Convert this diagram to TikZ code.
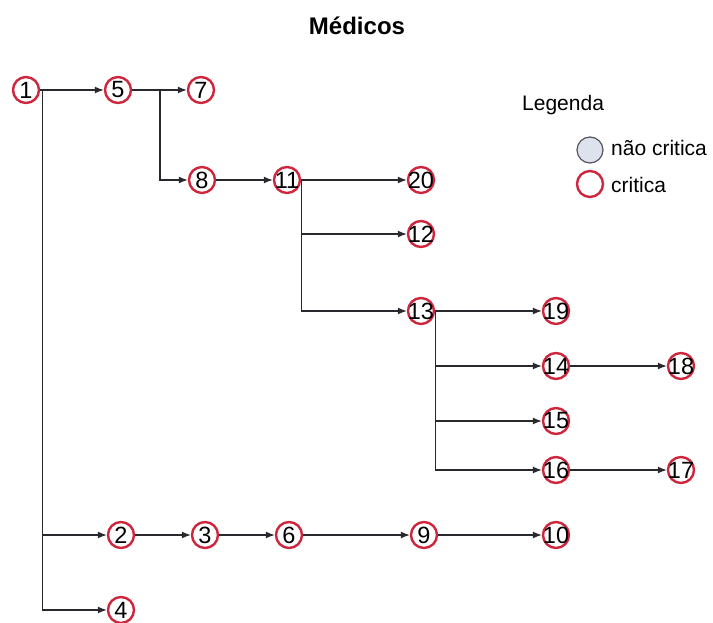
\documentclass[tikz,border=0pt]{standalone}
\usepackage{fontspec}
\setmainfont{Liberation Sans}
\usetikzlibrary{arrows.meta}
\definecolor{critred}{RGB}{206,38,60}
\definecolor{linegray}{RGB}{40,40,45}
\definecolor{softfill}{RGB}{222,226,236}
\definecolor{softedge}{RGB}{85,85,95}
\begin{document}
\begin{tikzpicture}[x=1pt,y=-1pt,
  crit/.style={circle, draw=critred, line width=2.4pt, minimum size=26pt, inner sep=0pt,
    label={[font=\fontsize{23.5}{23.5}\selectfont, inner sep=0pt]center:#1}},
  link/.style={draw=linegray, line width=1.3pt, -{Latex[length=9pt,width=7pt]}},
  trunk/.style={draw=linegray, line width=1.3pt},
  lbl/.style={font=\fontsize{21}{21}\selectfont, inner sep=0pt}]
\useasboundingbox (0,0) rectangle (713,623);

% title
\node[font=\fontsize{24}{24}\selectfont\bfseries] (title) at (357,26) {Médicos};

% legend
\node[lbl, anchor=west] (legtitle) at (522,105) {Legenda};
\node[circle, fill=softfill, draw=softedge, line width=1.2pt, minimum size=26pt, inner sep=0pt] (legsoft) at (590,150) {};
\node[circle, draw=critred, line width=2.4pt, minimum size=26pt, inner sep=0pt] (legcrit) at (590,184) {};
\node[lbl, anchor=west] (legsofttxt) at (611,148) {não critica};
\node[lbl, anchor=west] (legcrittxt) at (611,185) {critica};

% activity nodes
\node[crit=1] (n1) at (26,90) {};
\node[crit=5] (n5) at (118,90) {};
\node[crit=7] (n7) at (201,90) {};
\node[crit=8] (n8) at (202,180) {};
\node[crit=11] (n11) at (287,180) {};
\node[crit=20] (n20) at (421,180) {};
\node[crit=12] (n12) at (421,234) {};
\node[crit=13] (n13) at (421,311) {};
\node[crit=19] (n19) at (556,311) {};
\node[crit=14] (n14) at (556,366) {};
\node[crit=15] (n15) at (556,421) {};
\node[crit=16] (n16) at (556,470) {};
\node[crit=18] (n18) at (681,366) {};
\node[crit=17] (n17) at (681,470) {};
\node[crit=2] (n2) at (121,535) {};
\node[crit=3] (n3) at (205,535) {};
\node[crit=6] (n6) at (289,535) {};
\node[crit=9] (n9) at (424,535) {};
\node[crit=10] (n10) at (556,535) {};
\node[crit=4] (n4) at (121,610) {};

% branch points
\coordinate (b1) at ([xshift=2pt]n1.east);
\coordinate (b5) at (160,90);

% connectors from 1
\draw[link] (n1.east) -- (n5.west);
\draw[trunk] (b1) -- (b1 |- n4);
\draw[link] (b1 |- n2) -- (n2.west);
\draw[link] (b1 |- n4) -- (n4.west);

% connectors from 5
\draw[link] (n5.east) -- (n7.west);
\draw[link] (b5) |- (n8.west);

% connectors from 8 and 11
\draw[link] (n8.east) -- (n11.west);
\draw[link] (n11.east) -- (n20.west);
\draw[trunk] (n11.east) -- (n11.east |- n13);
\draw[link] (n11.east |- n12) -- (n12.west);
\draw[link] (n11.east |- n13) -- (n13.west);

% connectors from 13
\draw[link] (n13.east) -- (n19.west);
\draw[trunk] (n13.east) -- (n13.east |- n16);
\draw[link] (n13.east |- n14) -- (n14.west);
\draw[link] (n13.east |- n15) -- (n15.west);
\draw[link] (n13.east |- n16) -- (n16.west);
\draw[link] (n14.east) -- (n18.west);
\draw[link] (n16.east) -- (n17.west);

% bottom chain
\draw[link] (n2.east) -- (n3.west);
\draw[link] (n3.east) -- (n6.west);
\draw[link] (n6.east) -- (n9.west);
\draw[link] (n9.east) -- (n10.west);
\end{tikzpicture}
\end{document}
